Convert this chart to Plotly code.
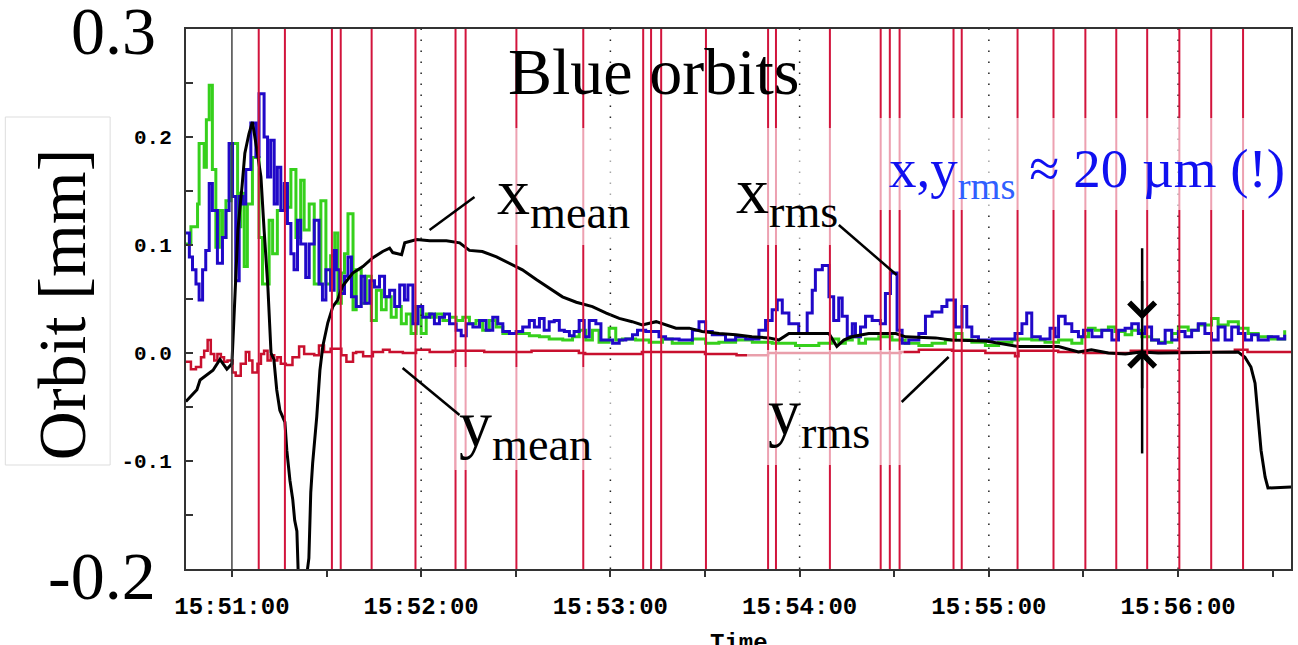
import plotly.graph_objects as go
import pandas as pd

# ---------------- data (seconds after 15:51:00, orbit in mm) ----------------
t_xmean = [-14.6, -11.1, -10.1, -6.0, -3.8, -1.6, 0.0, 1.3, 1.9, 3.2, 4.1, 5.4, 6.5, 8.1, 9.2,
           10.2, 11.4, 12.4, 13.3, 14.2, 15.2, 16.8, 17.4, 18.4, 19.3, 19.9, 20.6, 21.2, 23.1,
           24.4, 25.0, 25.6, 26.9, 27.9, 28.8, 30.4, 32.0, 33.5, 35.1, 38.3, 41.5, 44.6, 47.8,
           50.0, 51.0, 53.8, 54.8, 58.6, 62.7, 68.0, 72.2, 75.3, 79.4, 83.9, 88.0, 92.1, 96.5,
           100.6, 104.8, 109.2, 114.3, 118.7, 122.8, 126.9, 130.1, 134.5, 137.7, 140.8, 145.0,
           149.1, 154.5, 159.8, 164.9, 170.3, 173.4, 176.6, 182.0, 189.3, 191.8, 194.0, 196.5,
           201.9, 210.5, 213.6, 223.1, 228.2, 239.0, 249.4, 262.1, 268.4, 272.5, 277.9, 283.3,
           288.3, 293.7, 309.5, 319.0, 321.2, 323.1, 324.4, 325.4, 326.3, 327.6, 328.5, 335.8]
v_xmean = [-0.045, -0.034, -0.025, -0.016, -0.006, -0.015, -0.010, 0.070, 0.114, 0.154, 0.185,
           0.203, 0.214, 0.185, 0.163, 0.114, 0.061, 0.0, -0.006, -0.034, -0.053, -0.064, -0.090,
           -0.118, -0.136, -0.155, -0.165, -0.22, -0.22, -0.19, -0.129, -0.102, -0.059, -0.016,
           0.006, 0.028, 0.043, 0.049, 0.062, 0.074, 0.080, 0.088, 0.094, 0.097, 0.093, 0.091,
           0.102, 0.105, 0.104, 0.104, 0.102, 0.095, 0.094, 0.089, 0.083, 0.077, 0.068, 0.060,
           0.052, 0.047, 0.043, 0.037, 0.032, 0.029, 0.026, 0.029, 0.026, 0.023, 0.023, 0.020,
           0.018, 0.017, 0.015, 0.014, 0.012, 0.018, 0.018, 0.018, 0.006, 0.012, 0.015, 0.018,
           0.018, 0.015, 0.014, 0.012, 0.011, 0.006, 0.006, 0.001, 0.003, 0.0, -0.001, 0.001,
           0.0, 0.001, 0.001, -0.004, -0.013, -0.028, -0.059, -0.090, -0.115, -0.125, -0.124]

t_yrms = [-14.6, -13.0, -10.9, -10.4, -8.8, -8.1, -7.2, -6.2, -5.1, -4.0,
          -3.0, -1.9, -0.3, 1.8, 2.8, 3.9, 4.9, 6.5, 8.6, 9.7,
          11.8, 12.9, 14.4, 16.6, 17.6, 18.7, 20.3, 21.8, 22.9, 24.5,
          26.1, 28.2, 29.8, 31.3, 32.6, 33.6, 34.7, 35.7, 36.8, 38.4,
          39.4, 41.0, 42.6, 44.2, 45.8, 47.4, 48.9, 50.5, 52.1, 53.7,
          55.3, 56.8, 58.4, 60.0, 61.6, 63.2, 64.8, 66.9, 69.0, 71.1,
          73.2, 75.3, 77.4, 79.5, 81.6, 83.8, 85.9, 94.3, 97.5, 100.6,
          104.9, 108.0, 110.1, 112.2, 114.3, 116.4, 119.6, 121.7, 123.8, 128.0,
          132.3, 136.5, 139.6, 146.0, 150.2, 154.4, 159.7, 165.0, 171.3, 178.7,
          186.1, 190.3, 192.4, 194.5, 196.7, 198.8, 200.9, 205.1, 209.3, 213.5,
          217.8, 222.0, 226.2, 229.4, 231.5, 234.6, 238.9, 243.1, 247.3, 249.4,
          253.6, 257.8, 262.1, 266.3, 269.5, 271.6, 273.7, 277.9, 280.0, 283.2,
          285.3, 288.5, 291.6, 293.8, 298.0, 300.1, 303.2, 306.4, 310.6, 312.7,
          315.9, 319.1, 322.2, 325.4, 329.6, 333.8]
v_yrms = [0.101, 0.117, 0.138, 0.194, 0.172, 0.216, 0.248, 0.170, 0.098, 0.132,
          0.107, 0.141, 0.194, 0.117, 0.148, 0.080, 0.138, 0.181, 0.107, 0.064,
          0.123, 0.092, 0.132, 0.154, 0.135, 0.170, 0.107, 0.160, 0.114, 0.138,
          0.064, 0.141, 0.064, 0.090, 0.111, 0.046, 0.074, 0.092, 0.129, 0.040,
          0.077, 0.046, 0.071, 0.030, 0.058, 0.040, 0.052, 0.033, 0.043, 0.027,
          0.036, 0.018, 0.043, 0.018, 0.036, 0.033, 0.036, 0.030, 0.033, 0.030,
          0.033, 0.027, 0.030, 0.021, 0.030, 0.024, 0.018, 0.016, 0.015, 0.013,
          0.012, 0.015, 0.021, 0.012, 0.021, 0.010, 0.023, 0.012, 0.013, 0.012,
          0.010, 0.013, 0.009, 0.013, 0.009, 0.010, 0.012, 0.010, 0.009, 0.007,
          0.009, 0.013, 0.009, 0.012, 0.015, 0.009, 0.013, 0.015, 0.012, 0.009,
          0.007, 0.009, 0.012, 0.018, 0.012, 0.010, 0.007, 0.010, 0.012, 0.013,
          0.012, 0.010, 0.012, 0.009, 0.015, 0.023, 0.021, 0.024, 0.020, 0.017,
          0.021, 0.015, 0.012, 0.010, 0.018, 0.024, 0.021, 0.026, 0.032, 0.026,
          0.029, 0.023, 0.018, 0.015, 0.013, 0.021]

t_xrms = [-14.6, -13.5, -12.5, -11.4, -10.4, -9.3, -8.3, -7.2, -6.2, -4.6,
          -3.0, -1.9, -0.9, 0.2, 1.2, 2.3, 3.4, 4.4, 6.0, 7.6,
          8.6, 10.2, 11.3, 12.3, 13.4, 14.4, 15.5, 16.6, 17.6, 18.7,
          19.7, 20.8, 21.8, 23.4, 24.5, 26.1, 27.6, 28.7, 29.8, 31.3,
          32.4, 33.1, 34.2, 35.7, 36.8, 37.9, 39.4, 41.0, 42.1, 43.7,
          45.2, 46.8, 48.4, 50.0, 51.6, 53.2, 54.7, 55.8, 57.4, 59.0,
          60.5, 62.7, 64.2, 65.8, 67.4, 69.0, 71.1, 72.7, 74.3, 76.4,
          78.5, 80.6, 82.7, 84.3, 85.9, 88.0, 90.1, 92.2, 94.3, 95.9,
          97.5, 99.0, 100.6, 102.2, 103.8, 105.4, 107.0, 108.5, 110.1, 111.7,
          113.3, 115.4, 117.0, 120.7, 122.8, 124.9, 127.0, 128.6, 131.2, 135.4,
          137.5, 141.8, 146.0, 148.1, 150.2, 152.3, 156.5, 159.7, 162.9, 167.1,
          169.2, 171.3, 172.9, 174.5, 176.6, 179.7, 182.4, 184.0, 185.0, 187.2,
          189.3, 190.8, 192.4, 193.5, 195.1, 196.7, 197.7, 199.3, 200.9, 203.0,
          205.6, 207.2, 208.8, 210.9, 212.5, 214.6, 217.8, 219.9, 222.0, 225.1,
          226.7, 229.4, 231.5, 233.0, 234.6, 236.7, 241.0, 248.3, 250.5, 252.0,
          253.6, 256.3, 259.4, 261.0, 262.1, 264.2, 266.3, 268.4, 270.0, 272.7,
          275.8, 279.0, 281.1, 283.2, 285.3, 287.4, 289.5, 291.6, 293.8, 295.9,
          298.0, 300.1, 302.2, 304.3, 306.4, 308.5, 310.6, 312.7, 314.9, 317.0,
          319.1, 321.2, 323.3, 325.4, 328.6, 331.7, 333.8]
v_xrms = [0.111, 0.089, 0.077, 0.064, 0.049, 0.077, 0.095, 0.157, 0.132, 0.083,
          0.107, 0.132, 0.194, 0.145, 0.067, 0.145, 0.138, 0.170, 0.213, 0.182,
          0.240, 0.200, 0.163, 0.197, 0.138, 0.172, 0.132, 0.157, 0.120, 0.092,
          0.077, 0.123, 0.101, 0.070, 0.101, 0.123, 0.064, 0.049, 0.077, 0.058,
          0.095, 0.077, 0.055, 0.071, 0.089, 0.052, 0.043, 0.071, 0.046, 0.067,
          0.061, 0.071, 0.052, 0.058, 0.043, 0.063, 0.049, 0.063, 0.027, 0.043,
          0.033, 0.036, 0.027, 0.033, 0.036, 0.027, 0.021, 0.016, 0.027, 0.024,
          0.030, 0.021, 0.033, 0.027, 0.020, 0.018, 0.020, 0.024, 0.030, 0.024,
          0.032, 0.021, 0.029, 0.030, 0.021, 0.020, 0.016, 0.020, 0.030, 0.015,
          0.030, 0.027, 0.012, 0.009, 0.012, 0.013, 0.017, 0.021, 0.020, 0.015,
          0.013, 0.012, 0.021, 0.029, 0.020, 0.017, 0.012, 0.015, 0.013, 0.021,
          0.030, 0.040, 0.049, 0.037, 0.027, 0.018, 0.037, 0.058, 0.077, 0.081,
          0.052, 0.030, 0.051, 0.034, 0.015, 0.027, 0.015, 0.024, 0.034, 0.030,
          0.027, 0.055, 0.074, 0.021, 0.009, 0.012, 0.018, 0.034, 0.038, 0.043,
          0.049, 0.024, 0.043, 0.024, 0.015, 0.012, 0.013, 0.018, 0.027, 0.037,
          0.015, 0.013, 0.023, 0.015, 0.034, 0.027, 0.020, 0.015, 0.021, 0.015,
          0.021, 0.012, 0.021, 0.023, 0.027, 0.018, 0.024, 0.012, 0.009, 0.021,
          0.012, 0.020, 0.015, 0.021, 0.027, 0.018, 0.012, 0.024, 0.012, 0.024,
          0.018, 0.012, 0.017, 0.012, 0.015, 0.013, 0.017]

t_ymean = [-14.6, -13.0, -11.4, -9.8, -8.8, -7.7, -6.7, -5.6, -4.6, -3.5,
           -2.5, -1.4, 0.2, 1.2, 2.8, 4.4, 5.5, 6.5, 8.1, 9.2,
           10.2, 11.3, 12.3, 13.4, 14.4, 15.5, 17.1, 19.2, 21.3, 22.9,
           26.1, 27.6, 29.2, 31.3, 34.7, 36.3, 38.4, 39.4, 41.6, 44.7,
           47.9, 50.0, 54.2, 58.4, 62.7, 70.0, 80.0, 95.0, 110.0, 112.0,
           130.0, 150.0, 160.0, 170.0, 186.0, 212.0, 217.8, 228.3, 238.9, 248.3,
           249.4, 262.0, 270.0, 285.0, 300.0, 318.0, 322.0, 335.8]
v_ymean = [-0.008, -0.015, -0.013, -0.004, 0.002, 0.012, -0.001, -0.007, -0.001, -0.004,
           -0.008, -0.007, -0.018, -0.021, -0.010, 0.001, -0.007, -0.018, -0.010, -0.001,
           0.002, -0.007, -0.002, -0.007, -0.004, -0.010, -0.011, -0.004, 0.006, -0.001,
           -0.002, 0.007, 0.001, 0.004, -0.002, -0.008, 0.0, 0.001, -0.003, 0.001,
           0.003, 0.001, 0.0, 0.003, 0.001, 0.002, 0.001, 0.002, 0.0, -0.001,
           0.001, -0.001, -0.002, 0.0, 0.0, 0.001, 0.003, 0.002, 0.0, -0.003,
           0.002, 0.001, 0.0, 0.002, 0.001, 0.003, 0.001, 0.001]

# event markers (red vertical lines), seconds after 15:51:00
t_events = [8.5, 16.8, 31.7, 34.5, 44.3, 58.2, 70.9, 74.1, 90.2, 111.4, 130.4, 132.9, 136.1,
            150.3, 170.0, 172.5, 189.6, 205.7, 208.6, 211.7, 228.8, 231.4, 249.1, 260.5,
            270.6, 280.4, 290.2, 300.4, 310.5, 320.6]
t_minutes = [0, 60, 120, 180, 240, 300]
x_range_s = [-14.56, 335.8]
y_range = [-0.2, 0.3]
y_tickvals = [-0.1, 0.0, 0.1, 0.2]
y_ticktext = ["-0.1", "0.0", "0.1", "0.2"]
t_bracket = 288.6
bracket_top, bracket_bot = 0.097, -0.093
bracket_hi, bracket_lo = 0.031, 0.003

assert len(t_xmean) == len(v_xmean)
assert len(t_yrms) == len(v_yrms)
assert len(t_xrms) == len(v_xrms)
assert len(t_ymean) == len(v_ymean)

BASE = pd.Timestamp("2000-01-01 15:51:00")


def T(secs):
    if isinstance(secs, (list, tuple)):
        return [BASE + pd.Timedelta(seconds=s) for s in secs]
    return BASE + pd.Timedelta(seconds=secs)


# plot-area pixel geometry (for decorations only)
L, R, TOP, BOT = 186, 1293, 29, 569
W, H = 1298, 645


def px(x):
    return (x - L) / (R - L)


def py(y):
    return (BOT - y) / (BOT - TOP)


SERIF = "Liberation Serif"
MONO = "Liberation Mono"

fig = go.Figure()
fig.add_trace(go.Scatter(x=T(t_ymean), y=v_ymean, mode="lines", line=dict(color="#c8102e", width=2.5, shape="hv")))
fig.add_trace(go.Scatter(x=T(t_yrms), y=v_yrms, mode="lines", line=dict(color="#36d01c", width=3, shape="hv")))
fig.add_trace(go.Scatter(x=T(t_xrms), y=v_xrms, mode="lines", line=dict(color="#2008c8", width=3, shape="hv")))
fig.add_trace(go.Scatter(x=T(t_xmean), y=v_xmean, mode="lines", line=dict(color="black", width=3)))

shapes = []
# minute grid lines
for i, m in enumerate(t_minutes):
    if i == 0:
        shapes.append(dict(type="line", xref="x", yref="paper", x0=T(m), x1=T(m), y0=0, y1=1,
                           line=dict(color="#444", width=1.5), layer="above"))
    else:
        shapes.append(dict(type="line", xref="x", yref="paper", x0=T(m), x1=T(m), y0=0, y1=1,
                           line=dict(color="#222", width=1.5, dash="1.5px,9.5px"), layer="above"))
# event lines
for e in t_events:
    shapes.append(dict(type="line", xref="x", yref="paper", x0=T(e), x1=T(e), y0=0, y1=1,
                       line=dict(color="#d2143c", width=2), layer="above"))
# translucent label backgrounds
for (x0, y0, x1, y1) in [(490, 128, 632, 245), (730, 128, 880, 245),
                         (880, 118, 1293, 210), (748, 350, 905, 465), (455, 367, 632, 470)]:
    shapes.append(dict(type="rect", xref="paper", yref="paper", x0=px(x0), x1=px(x1),
                       y0=py(y1), y1=py(y0), fillcolor="rgba(255,255,255,0.6)",
                       line=dict(width=0), layer="above"))
# pointer lines
for (x0, y0, x1, y1) in [(430, 230, 475, 197), (840, 225, 898, 275), (403, 368, 460, 415),
                         (903, 402, 950, 357)]:
    shapes.append(dict(type="line", xref="paper", yref="paper", x0=px(x0), y0=py(y0),
                       x1=px(x1), y1=py(y1), line=dict(color="black", width=2.5), layer="above"))
# bracket stem
shapes.append(dict(type="line", xref="x", yref="y", x0=T(t_bracket), x1=T(t_bracket),
                   y0=bracket_bot, y1=bracket_top, line=dict(color="black", width=2.5), layer="above"))
# y-label frame
shapes.append(dict(type="rect", xref="paper", yref="paper", x0=px(5), x1=px(110), y0=py(465), y1=py(117),
                   line=dict(color="#dddddd", width=1), fillcolor="white", layer="above"))

ann = []
ann.append(dict(text="0.3", xref="paper", yref="paper", x=px(158), y=py(31), xanchor="right", yanchor="middle",
                showarrow=False, font=dict(family=SERIF, size=68, color="black"), bgcolor="white"))
ann.append(dict(text="-0.2", xref="paper", yref="paper", x=px(158), y=py(576), xanchor="right", yanchor="middle",
                showarrow=False, font=dict(family=SERIF, size=68, color="black"), bgcolor="white"))
ann.append(dict(text="Orbit [mm]", xref="paper", yref="paper", x=px(62), y=py(304), textangle=-90,
                xanchor="center", yanchor="middle", showarrow=False,
                font=dict(family=SERIF, size=68, color="black")))
ann.append(dict(text="Blue orbits", xref="paper", yref="paper", x=px(655), y=py(72), xanchor="center",
                yanchor="middle", showarrow=False, font=dict(family=SERIF, size=66, color="black")))
ann.append(dict(text="x<sub>mean</sub>", xref="paper", yref="paper", x=px(496), y=py(196), xanchor="left",
                yanchor="middle", showarrow=False, font=dict(family=SERIF, size=66, color="black")))
ann.append(dict(text="x<sub>rms</sub>", xref="paper", yref="paper", x=px(735), y=py(195), xanchor="left",
                yanchor="middle", showarrow=False, font=dict(family=SERIF, size=66, color="black")))
ann.append(dict(text="y<sub>mean</sub>", xref="paper", yref="paper", x=px(457), y=py(428), xanchor="left",
                yanchor="middle", showarrow=False, font=dict(family=SERIF, size=66, color="black")))
ann.append(dict(text="y<sub>rms</sub>", xref="paper", yref="paper", x=px(767), y=py(416), xanchor="left",
                yanchor="middle", showarrow=False, font=dict(family=SERIF, size=66, color="black")))
ann.append(dict(text="x,y<sub><span style='color:#3060ff'>rms</span></sub> \u2248 20 \u00b5m (!)",
                xref="paper", yref="paper", x=px(888), y=py(172), xanchor="left", yanchor="middle",
                showarrow=False, font=dict(family=SERIF, size=55, color="#1010f0")))
ann.append(dict(text="Time", xref="paper", yref="paper", x=px(740), y=py(643), xanchor="center",
                yanchor="middle", showarrow=False, font=dict(family=MONO, size=24, color="black", weight="bold")))
# bracket arrowheads
ann.append(dict(text="", x=T(t_bracket), y=bracket_hi, xref="x", yref="y", ax=0, ay=-40,
                showarrow=True, arrowhead=4, arrowsize=2.0, arrowwidth=2.5, arrowcolor="black"))
ann.append(dict(text="", x=T(t_bracket), y=bracket_lo, xref="x", yref="y", ax=0, ay=40,
                showarrow=True, arrowhead=4, arrowsize=2.0, arrowwidth=2.5, arrowcolor="black"))

axis_col = "#333"
fig.update_layout(
    width=W, height=H, margin=dict(l=L, r=W - R, t=TOP, b=H - BOT),
    paper_bgcolor="white", plot_bgcolor="white", showlegend=False,
    shapes=shapes, annotations=ann,
    xaxis=dict(type="date", range=[T(x_range_s[0]), T(x_range_s[1])], tick0=BASE, dtick=60000,
               tickformat="%H:%M:%S", ticks="outside", ticklen=6, tickwidth=2, tickcolor=axis_col,
               showline=True, linecolor=axis_col, linewidth=2, mirror=True, showgrid=False,
               zeroline=False, ticklabelstandoff=8,
               tickfont=dict(family=MONO, size=24, color="black", weight="bold"),
               minor=dict(dtick=30000, ticks="outside", ticklen=6, tickwidth=2, tickcolor=axis_col,
                          showgrid=False)),
    yaxis=dict(range=y_range, tickvals=y_tickvals, ticktext=y_ticktext, ticks="inside", ticklen=7,
               tickwidth=2, tickcolor=axis_col, showline=True, linecolor=axis_col, linewidth=2,
               mirror=True, showgrid=False, zeroline=False, ticklabelstandoff=8,
               tickfont=dict(family=MONO, size=21, color="black", weight="bold"),
               minor=dict(dtick=0.05, tick0=0, ticks="inside", ticklen=7, tickwidth=2,
                          tickcolor=axis_col, showgrid=False)),
)

fig.write_html("out.html", config={"displayModeBar": False},
               post_script="document.body.style.margin='0';document.body.style.overflow='hidden';")
